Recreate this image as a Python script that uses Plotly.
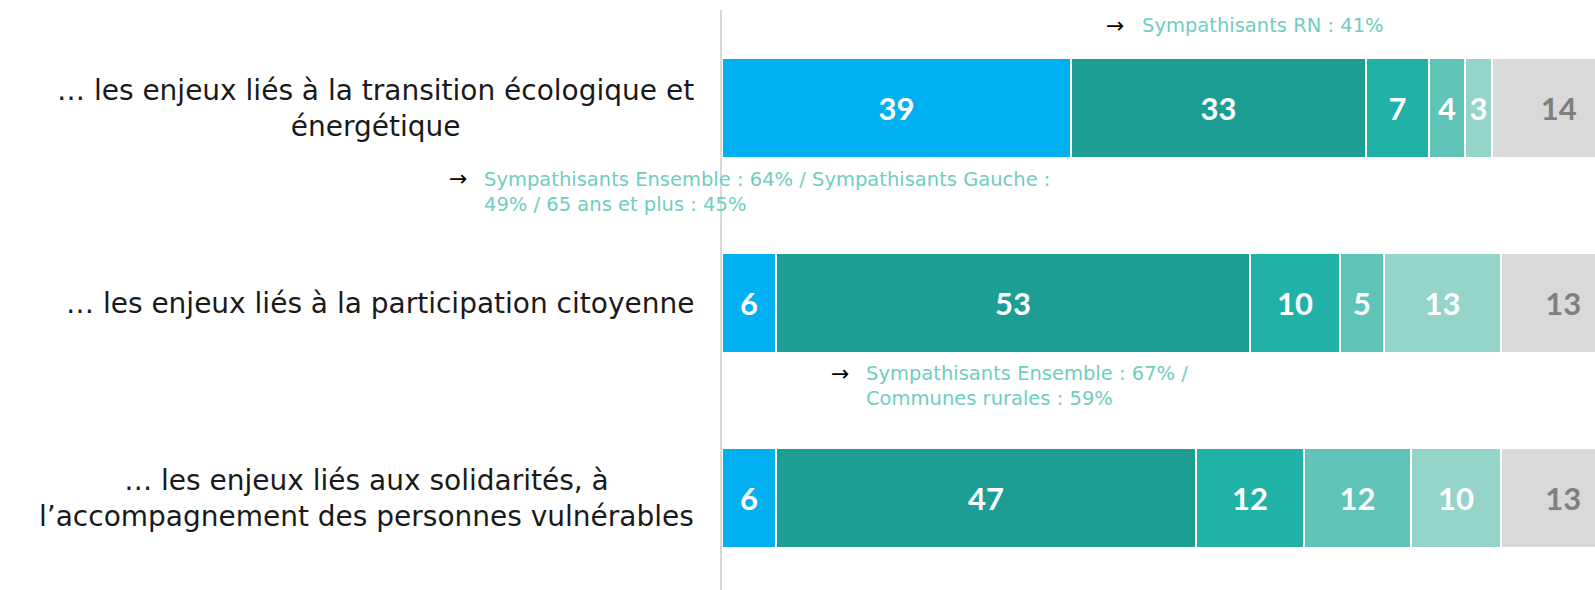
import plotly.graph_objects as go

# rows (top to bottom)
categories = [
    "… les enjeux liés à la transition écologique et<br>énergétique",
    "… les enjeux liés à la participation citoyenne",
    "… les enjeux liés aux solidarités, à<br>l’accompagnement des personnes vulnérables",
]
series_names = ["Segment 1", "Segment 2", "Segment 3", "Segment 4", "Segment 5", "Segment 6"]
values = [
    [39, 6, 6],
    [33, 53, 47],
    [7, 10, 12],
    [4, 5, 12],
    [3, 13, 10],
    [14, 13, 13],
]
colors = ["#00B0F0", "#1C9E94", "#20B1A7", "#5FC3B8", "#95D4CA", "#D9D9D9"]
text_colors = ["white", "white", "white", "white", "white", "#7F7F7F"]

notes = [
    "Sympathisants RN : 41%",
    "Sympathisants Ensemble : 64% / Sympathisants Gauche :<br>49% / 65 ans et plus : 45%",
    "Sympathisants Ensemble : 67% /<br>Communes rurales : 59%",
]

W, H = 1595, 590
L, T = 722, 10
UNIT = 8.95  # px per percentage point
FONT = "'DejaVu Sans', sans-serif"
NUM_FONT = "Lato, sans-serif"


def px(x):
    return (x - L) / (W - L)


def py(y):
    return (H - y) / (H - T)


fig = go.Figure()
ypos = list(range(len(categories)))
for k, (name, vals, col, tc) in enumerate(zip(series_names, values, colors, text_colors)):
    last = k == len(values) - 1
    fig.add_trace(go.Bar(
        name=name, x=vals, y=ypos, orientation="h",
        marker=dict(color=col, line=dict(color="white", width=2)),
        width=0.513,
        text=None if last else vals, textposition="inside", insidetextanchor="middle",
        constraintext="none", cliponaxis=False,
        textfont=dict(color=tc, size=31, family=NUM_FONT, weight="bold"),
        hoverinfo="skip",
    ))

# labels for the last segment (the bar runs past the right edge)
starts = [sum(v[i] for v in values[:-1]) for i in ypos]
fig.add_trace(go.Scatter(
    x=[s + v / 2 + 0.5 for s, v in zip(starts, values[-1])],
    y=[i + 0.02 for i in ypos], mode="text",
    text=values[-1], cliponaxis=False, hoverinfo="skip",
    textfont=dict(color=text_colors[-1], size=31, family=NUM_FONT, weight="bold"),
))

annotations = []
# category labels on the left
for i, cat in enumerate(categories):
    annotations.append(dict(
        x=px(696), xref="paper", y=i, yref="y", text=cat, showarrow=False,
        xanchor="right", yanchor="middle", align="center",
        font=dict(size=28, color="#1A1A1A", family=FONT),
    ))

# notes with arrows
note_pos = [  # (arrow x, arrow y, text x, text y center)
    (1115, 25, 1140, 25),
    (458, 179, 482, 192),
    (840, 373, 864, 386),
]
for note, (ax, ay, tx, ty) in zip(notes, note_pos):
    annotations.append(dict(
        x=px(ax), y=py(ay), xref="paper", yref="paper", text="→",
        showarrow=False, xanchor="center", yanchor="middle",
        font=dict(size=22, color="#000000", family="DejaVu Sans"),
    ))
    annotations.append(dict(
        x=px(tx), y=py(ty), xref="paper", yref="paper", text=note,
        showarrow=False, xanchor="left", yanchor="middle", align="left",
        font=dict(size=19.5, color="#6FCDC1", family=FONT),
    ))

fig.update_layout(
    barmode="stack",
    width=W, height=H,
    margin=dict(l=L, r=0, t=T, b=0),
    plot_bgcolor="white", paper_bgcolor="white",
    showlegend=False,
    bargap=0,
    xaxis=dict(range=[0, (W - L) / UNIT], visible=False, fixedrange=True),
    yaxis=dict(range=[2.4718, -0.5026], showticklabels=False, showgrid=False,
               zeroline=False, showline=True, linecolor="#D9D9D9", linewidth=2,
               ticks=""),
    annotations=annotations,
)

fig.write_html(
    "out.html",
    config={"displayModeBar": False},
    post_script="document.body.style.margin='0';document.body.style.overflow='hidden';",
)
